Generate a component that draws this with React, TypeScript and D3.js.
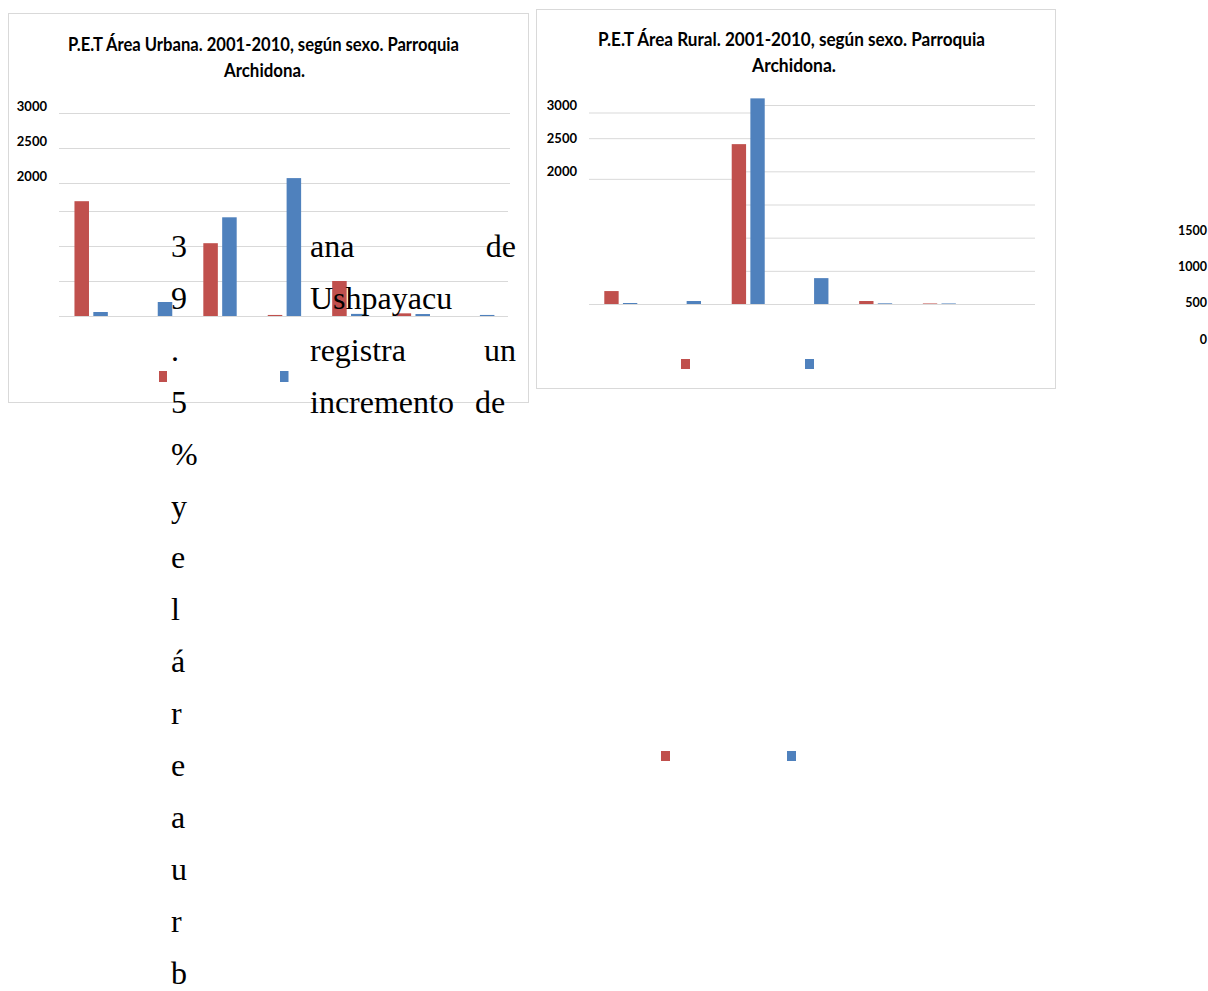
import React from "react";
import * as d3 from "d3";

const categories = ["Grupo 1", "Grupo 2", "Grupo 3", "Grupo 4", "Grupo 5", "Grupo 6", "Grupo 7"];
const seriesNames = ["2001", "2010"];
const urban2001 = [1640, 0, 1040, 15, 500, 38, 0];
const urban2010 = [57, 200, 1410, 1970, 30, 28, 15];
const rural2001 = [195, 0, 2410, 0, 45, 8, 0];
const rural2010 = [15, 45, 3100, 390, 10, 8, 0];
const lowerTicks = [0, 500, 1000, 1500];
const upperTicks = [2000, 2500, 3000];
const strayTicks = [0, 500, 1000, 1500];
const urbanTitle = ["P.E.T Área Urbana. 2001-2010, según sexo. Parroquia", "Archidona."];
const ruralTitle = ["P.E.T Área Rural. 2001-2010, según sexo. Parroquia", "Archidona."];
const columnChars = ["3", "9", ".", "5", "%", "y", "e", "l", "á", "r", "e", "a", "u", "r", "b"];
const paragraphLines = [["ana", "de"], ["Ushpayacu"], ["registra", "un"], ["incremento", "de"]];

const RED = "#C0504D";
const BLUE = "#4F81BD";
const GRID = "#D9D9D9";
const LABEL_FONT = "Lato, 'Open Sans', sans-serif";
const SERIF = "'Liberation Serif', 'DejaVu Serif', serif";

function makeX(x0: number, x1: number) {
  const outer = d3.scaleBand<string>().domain(categories).range([x0, x1]).padding(0);
  const g = outer.bandwidth();
  const inner = d3.scaleBand<string>().domain(seriesNames).range([g * 0.24, g * 0.758]).paddingInner(0.23);
  return { outer, inner };
}

function Bars({ xs, y, a, b }: any) {
  const vals = [a, b];
  return (
    <g>
      {categories.map((c, i) => (
        <g key={c}>
          {seriesNames.map((s, k) => {
            const v = vals[k][i];
            if (v <= 0) return null;
            const x = xs.outer(c) + xs.inner(s);
            return (
              <rect key={s} x={x} y={y(v)} width={xs.inner.bandwidth()} height={y(0) - y(v)} fill={k === 0 ? RED : BLUE} />
            );
          })}
        </g>
      ))}
    </g>
  );
}

function Title({ lines, cx1, cx2, w1, w2, b1, b2 }: any) {
  return (
    <g fontFamily={LABEL_FONT} fontWeight={700} fontSize={18} fill="#000">
      <text x={cx1} y={b1} textAnchor="middle" textLength={w1} lengthAdjust="spacingAndGlyphs">{lines[0]}</text>
      <text x={cx2} y={b2} textAnchor="middle" textLength={w2} lengthAdjust="spacingAndGlyphs">{lines[1]}</text>
    </g>
  );
}

function YLabels({ y, xEnd }: any) {
  return (
    <g fontFamily={LABEL_FONT} fontWeight={700} fontSize={13} fill="#000" textAnchor="end">
      {upperTicks.map((t) => (
        <text key={t} x={xEnd} y={y(t)} dy="0.36em">{t}</text>
      ))}
    </g>
  );
}

export default function App() {
  // Urban chart
  const uX = makeX(59, 510);
  const uY = d3.scaleLinear().domain([0, 3000]).range([316, 106]);
  // Rural chart
  const rX = makeX(589, 1035);
  const rY = d3.scaleLinear().domain([0, 3000]).range([304, 105]);
  const bw = rX.inner.bandwidth();
  const c3 = categories[2];
  const redEdge = (rX.outer(c3) as number) + (rX.inner(seriesNames[0]) as number) + bw;
  const redStart = (rX.outer(c3) as number) + (rX.inner(seriesNames[0]) as number);
  const blueStart = (rX.outer(c3) as number) + (rX.inner(seriesNames[1]) as number);
  const blueEdge = blueStart + bw;
  // stray tick labels at right
  const sY = d3.scaleLinear().domain([0, 1500]).range([339, 230]);

  const lineStep = 51.9;
  const base0 = 257;

  return (
    <svg width={1208} height={991} style={{ position: "absolute", left: 0, top: 0 }}>
      <rect width={1208} height={991} fill="#fff" />
      {/* Urban chart */}
      <rect x={8.5} y={13.5} width={520} height={389} fill="#fff" stroke={GRID} strokeWidth={1} />
      <Title lines={urbanTitle} cx1={263.5} cx2={264.5} w1={391} w2={81} b1={50.5} b2={76.5} />
      <g stroke={GRID} strokeWidth={1}>
        {lowerTicks.map((t) => (
          <line key={t} x1={59} x2={508} y1={uY(t) + 0.5} y2={uY(t) + 0.5} />
        ))}
        {upperTicks.map((t) => (
          <line key={t} x1={59} x2={510} y1={uY(t) + 7.5} y2={uY(t) + 7.5} />
        ))}
      </g>
      <YLabels y={uY} xEnd={47} />
      <Bars xs={uX} y={uY} a={urban2001} b={urban2010} />
      <rect x={159} y={371} width={8} height={11} fill={RED} />
      <rect x={280} y={371} width={8.5} height={11} fill={BLUE} />

      {/* Rural chart */}
      <rect x={536.5} y={9.5} width={519} height={379} fill="#fff" stroke={GRID} strokeWidth={1} />
      <Title lines={ruralTitle} cx1={791.5} cx2={794} w1={387} w2={84} b1={46} b2={71.5} />
      <g stroke={GRID} strokeWidth={1}>
        <line x1={589} x2={1035} y1={rY(0) + 0.5} y2={rY(0) + 0.5} />
        <line x1={589} x2={1035} y1={rY(2500) + 0.5} y2={rY(2500) + 0.5} />
        {[500, 1000, 1500].map((t) => (
          <line key={t} x1={redEdge} x2={1035} y1={rY(t) + 0.5} y2={rY(t) + 0.5} />
        ))}
        <line x1={redEdge} x2={1035} y1={rY(2000) + 0.5} y2={rY(2000) + 0.5} />
        <line x1={589} x2={redStart + 1} y1={rY(2000) + 8} y2={rY(2000) + 8} />
        <line x1={blueEdge - 1} x2={1035} y1={rY(3000) + 0.5} y2={rY(3000) + 0.5} />
        <line x1={589} x2={blueStart + 3} y1={rY(3000) + 8} y2={rY(3000) + 8} />
      </g>
      <YLabels y={rY} xEnd={577} />
      <Bars xs={rX} y={rY} a={rural2001} b={rural2010} />
      <rect x={681} y={359} width={9} height={10} fill={RED} />
      <rect x={805} y={359} width={9} height={10} fill={BLUE} />

      {/* stray axis labels at right edge */}
      <g fontFamily={LABEL_FONT} fontWeight={700} fontSize={12.5} fill="#000" textAnchor="end">
        {strayTicks.map((t) => (
          <text key={t} x={1207} y={sY(t)} dy="0.36em">{t}</text>
        ))}
      </g>

      {/* stray legend markers */}
      <rect x={661} y={751} width={9} height={10} fill={RED} />
      <rect x={787} y={751} width={9} height={10} fill={BLUE} />

      {/* overlapping body text */}
      <g fontFamily={SERIF} fontSize={32} fill="#000">
        {columnChars.map((ch, i) => (
          <text key={i} x={171} y={base0 + i * lineStep}>{ch}</text>
        ))}
        {paragraphLines.map((words, i) => {
          const y = base0 + i * lineStep;
          if (words.length === 1) return <text key={i} x={310} y={y}>{words[0]}</text>;
          if (i === 3)
            return (
              <g key={i}>
                <text x={310} y={y}>{words[0]}</text>
                <text x={475} y={y}>{words[1]}</text>
              </g>
            );
          return (
            <g key={i}>
              <text x={310} y={y}>{words[0]}</text>
              <text x={516} y={y} textAnchor="end">{words[1]}</text>
            </g>
          );
        })}
      </g>
    </svg>
  );
}
